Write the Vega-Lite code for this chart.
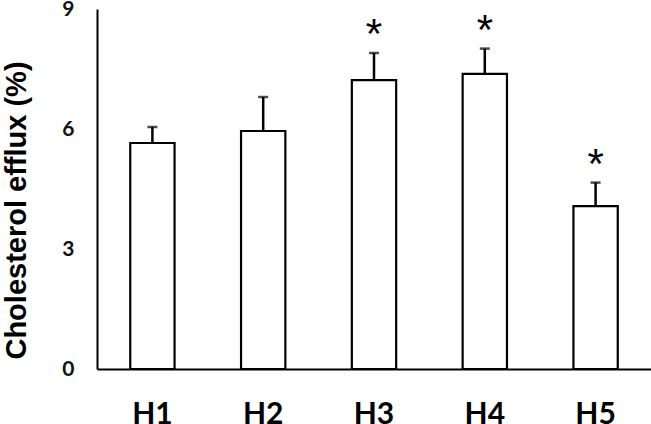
{
  "$schema": "https://vega.github.io/schema/vega-lite/v6.json",
  "width": 554,
  "height": 360,
  "autosize": {"type": "none"},
  "padding": {"left": 97, "top": 9, "right": 0, "bottom": 55},
  "background": "white",
  "config": {"view": {"stroke": null}},
  "data": {"values": [
    {"group": "H1", "mean": 5.65, "upper": 6.05, "sig": ""},
    {"group": "H2", "mean": 5.95, "upper": 6.8, "sig": ""},
    {"group": "H3", "mean": 7.22, "upper": 7.9, "sig": "*"},
    {"group": "H4", "mean": 7.38, "upper": 8.01, "sig": "*"},
    {"group": "H5", "mean": 4.07, "upper": 4.66, "sig": "*"}
  ]},
  "encoding": {
    "x": {
      "field": "group", "type": "nominal", "sort": null,
      "scale": {"paddingInner": 0.6, "paddingOuter": 0.3},
      "axis": {
        "title": null, "labelAngle": 0, "ticks": false,
        "domainColor": "black", "domainWidth": 2,
        "labelFont": "Lato", "labelFontWeight": "bold", "labelFontSize": 30,
        "labelColor": "black", "labelPadding": 30, "labelBaseline": "top"
      }
    }
  },
  "layer": [
    {
      "mark": {"type": "rule", "stroke": "black", "strokeWidth": 2.5},
      "encoding": {
        "y": {"field": "mean", "type": "quantitative"},
        "y2": {"field": "upper"}
      }
    },
    {
      "mark": {"type": "tick", "color": "black", "thickness": 2.5, "size": 10, "orient": "horizontal"},
      "encoding": {
        "y": {"field": "upper", "type": "quantitative"}
      }
    },
    {
      "mark": {"type": "bar", "fill": "white", "stroke": "black", "strokeWidth": 2.2},
      "encoding": {
        "y": {
          "field": "mean", "type": "quantitative",
          "scale": {"domain": [0, 9], "nice": false},
          "axis": {
            "values": [0, 3, 6, 9], "grid": false, "ticks": false,
            "domainColor": "black", "domainWidth": 2,
            "labelFont": "Lato", "labelFontWeight": "bold", "labelFontSize": 21, "labelColor": "#111111",
            "labelPadding": 23,
            "title": "Cholesterol efflux (%)",
            "titleFont": "Liberation Sans", "titleFontWeight": "bold", "titleFontSize": 29,
            "titleColor": "black", "titleAngle": -90, "titleX": -81, "titleY": 201,
            "titleAlign": "center", "titleBaseline": "middle"
          }
        }
      }
    },
    {
      "mark": {"type": "text", "fontSize": 42, "font": "Liberation Sans", "color": "black", "baseline": "alphabetic", "dy": -5},
      "encoding": {
        "y": {"field": "upper", "type": "quantitative"},
        "text": {"field": "sig"}
      }
    }
  ]
}
